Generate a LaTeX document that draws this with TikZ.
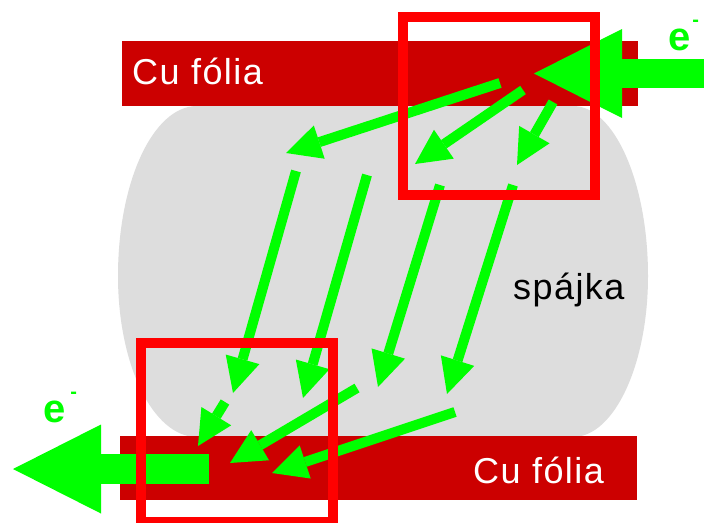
\documentclass[tikz,border=0pt]{standalone}
\usepackage{fontspec}
\setmainfont{Liberation Sans}
\newfontfamily\labelfont{Liberation Sans}[LetterSpace=4]
\usetikzlibrary{arrows.meta}

\definecolor{foil}{HTML}{CC0000}
\definecolor{solder}{HTML}{DDDDDD}
\definecolor{flow}{HTML}{00FF00}
\definecolor{frame}{HTML}{FF0000}

\begin{document}
\begin{tikzpicture}[x=1pt,y=-1pt,
  foilbar/.style={fill=foil},
  foiltext/.style={anchor=base west,inner sep=0pt,text=white,
    font=\labelfont\fontsize{36}{40}\selectfont},
  soldertext/.style={anchor=base west,inner sep=0pt,text=black,
    font=\labelfont\fontsize{36}{40}\selectfont},
  current/.style={draw=flow,line width=10pt,
    -{Triangle[length=35pt,width=35pt,line width=0pt]}},
  bigcurrent/.style={draw=flow,line width=#1,
    -{Triangle[length=88pt,width=89pt,line width=0pt]}},
  zoombox/.style={draw=frame,line width=10pt},
  electron/.style={anchor=base west,inner sep=0pt,text=flow,
    font=\bfseries\fontsize{40}{44}\selectfont}]

\clip (0,0) rectangle (704,522);
\fill[white] (0,0) rectangle (704,522);

% solder body between the foils
\fill[solder] (197,106) -- (573,106)
  .. controls (614,106) and (648,182) .. (648,276)
  .. controls (648,365) and (614,437) .. (573,437)
  -- (197,437)
  .. controls (153,437) and (118,365) .. (118,276)
  .. controls (118,182) and (153,106) .. (197,106) -- cycle;

% copper foils
\fill[foilbar] (122,41) rectangle (638,106);
\fill[foilbar] (120,436) rectangle (637,500);

\node[foiltext] (topfoil) at (132,84) {Cu fólia};
\node[foiltext] (botfoil) at (473,483) {Cu fólia};
\node[soldertext] (solderlbl) at (513,299) {spájka};

% current paths
\coordinate (a1s) at (500,83);  \coordinate (a1e) at (286,153);
\coordinate (a2s) at (523,90);  \coordinate (a2e) at (415,164);
\coordinate (a3s) at (553,102); \coordinate (a3e) at (517,165);
\coordinate (a4s) at (296,171); \coordinate (a4e) at (233,393);
\coordinate (a5s) at (367,175); \coordinate (a5e) at (303,398);
\coordinate (a6s) at (440,185); \coordinate (a6e) at (378,387);
\coordinate (a7s) at (513,185); \coordinate (a7e) at (447,394);
\coordinate (a8s) at (225,402); \coordinate (a8e) at (198,446);
\coordinate (a9s) at (357,388); \coordinate (a9e) at (230,463);
\coordinate (a10s) at (455,412); \coordinate (a10e) at (272,473);

\foreach \i in {1,...,10}
  \draw[current] (a\i s) -- (a\i e);

% incoming and outgoing electron flow
\coordinate (inS) at (712,73.5);  \coordinate (inE) at (534,73.5);
\coordinate (outS) at (209,469);  \coordinate (outE) at (13,469);
\draw[bigcurrent=29pt] (inS) -- (inE);
\draw[bigcurrent=30pt] (outS) -- (outE);

% detail frames
\draw[zoombox] (403,17) rectangle (594.5,195);
\draw[zoombox] (140.5,343) rectangle (332.5,522);

\node[electron] (ein) at (668,50) {e\hspace{2pt}\raisebox{24pt}{\fontsize{20}{20}\selectfont -}};
\node[electron] (eout) at (43,422) {e\hspace{5pt}\raisebox{24pt}{\fontsize{20}{20}\selectfont -}};
\end{tikzpicture}
\end{document}
